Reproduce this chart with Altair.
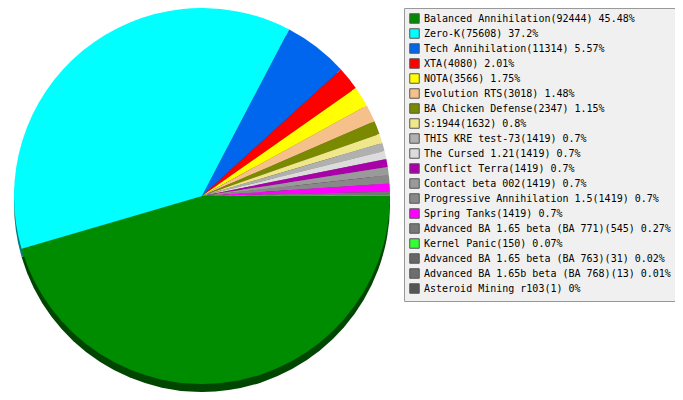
import math
import altair as alt
import pandas as pd

names = [
    "Balanced Annihilation", "Zero-K", "Tech Annihilation", "XTA", "NOTA",
    "Evolution RTS", "BA Chicken Defense", "S:1944", "THIS KRE test-73",
    "The Cursed 1.21", "Conflict Terra", "Contact beta 002",
    "Progressive Annihilation 1.5", "Spring Tanks",
    "Advanced BA 1.65 beta (BA 771)", "Kernel Panic",
    "Advanced BA 1.65 beta (BA 763)", "Advanced BA 1.65b beta (BA 768)",
    "Asteroid Mining r103",
]
values = [92444, 75608, 11314, 4080, 3566, 3018, 2347, 1632, 1419, 1419,
          1419, 1419, 1419, 1419, 545, 150, 31, 13, 1]
percents = ["45.48", "37.2", "5.57", "2.01", "1.75", "1.48", "1.15", "0.8",
            "0.7", "0.7", "0.7", "0.7", "0.7", "0.7", "0.27", "0.07", "0.02",
            "0.01", "0"]
colors = ["#008C00", "#00FFFF", "#0066EE", "#FF0000", "#FFFF00", "#F5C08A",
          "#7A8A00", "#F0E68C", "#B0B0B0", "#DCDCDC", "#AA00AA", "#9A9A9A",
          "#888888", "#FF00FF", "#777777", "#33FF33", "#666666", "#6E6E6E",
          "#555555"]


def darker(h, f=0.5):
    r, g, b = int(h[1:3], 16), int(h[3:5], 16), int(h[5:7], 16)
    return "#%02X%02X%02X" % (int(r * f), int(g * f), int(b * f))


labels = [f"{n}({v}) {p}%" for n, v, p in zip(names, values, percents)]
df = pd.DataFrame({
    "idx": list(range(len(names))),
    "label": labels,
    "value": values,
    "shade": [darker(c) for c in colors],
})

theta_scale = alt.Scale(range=[math.pi / 2, math.pi / 2 + 2 * math.pi])

shadow = alt.Chart(df).mark_arc(radius=188).encode(
    theta=alt.Theta("value:Q", stack=True, scale=theta_scale),
    order=alt.Order("idx:Q"),
    color=alt.Color("shade:N", scale=None),
    x=alt.value(194),
    y=alt.value(196),
)

top = alt.Chart(df).mark_arc(radius=188).encode(
    theta=alt.Theta("value:Q", stack=True, scale=theta_scale),
    order=alt.Order("idx:Q"),
    color=alt.Color(
        "label:N",
        scale=alt.Scale(domain=labels, range=colors),
        legend=alt.Legend(
            orient="none", legendX=396, legendY=0, title=None,
            symbolType="square", symbolSize=90, symbolStrokeColor="#555555",
            symbolStrokeWidth=1, symbolOpacity=1,
            labelFont="DejaVu Sans Mono", labelFontSize=10, labelColor="black",
            labelLimit=400, labelOffset=4,
            fillColor="#F0F0F0", strokeColor="#999999", padding=5,
            rowPadding=0, direction="vertical",
        ),
    ),
    x=alt.value(194),
    y=alt.value(188),
)

chart = alt.layer(shadow, top).resolve_scale(color="independent").properties(
    width=667, height=384,
    autosize=alt.AutoSizeParams(type="none"),
    padding=0,
).configure_view(stroke=None)

chart.save("out.html", embed_options={"renderer": "svg", "actions": False})
